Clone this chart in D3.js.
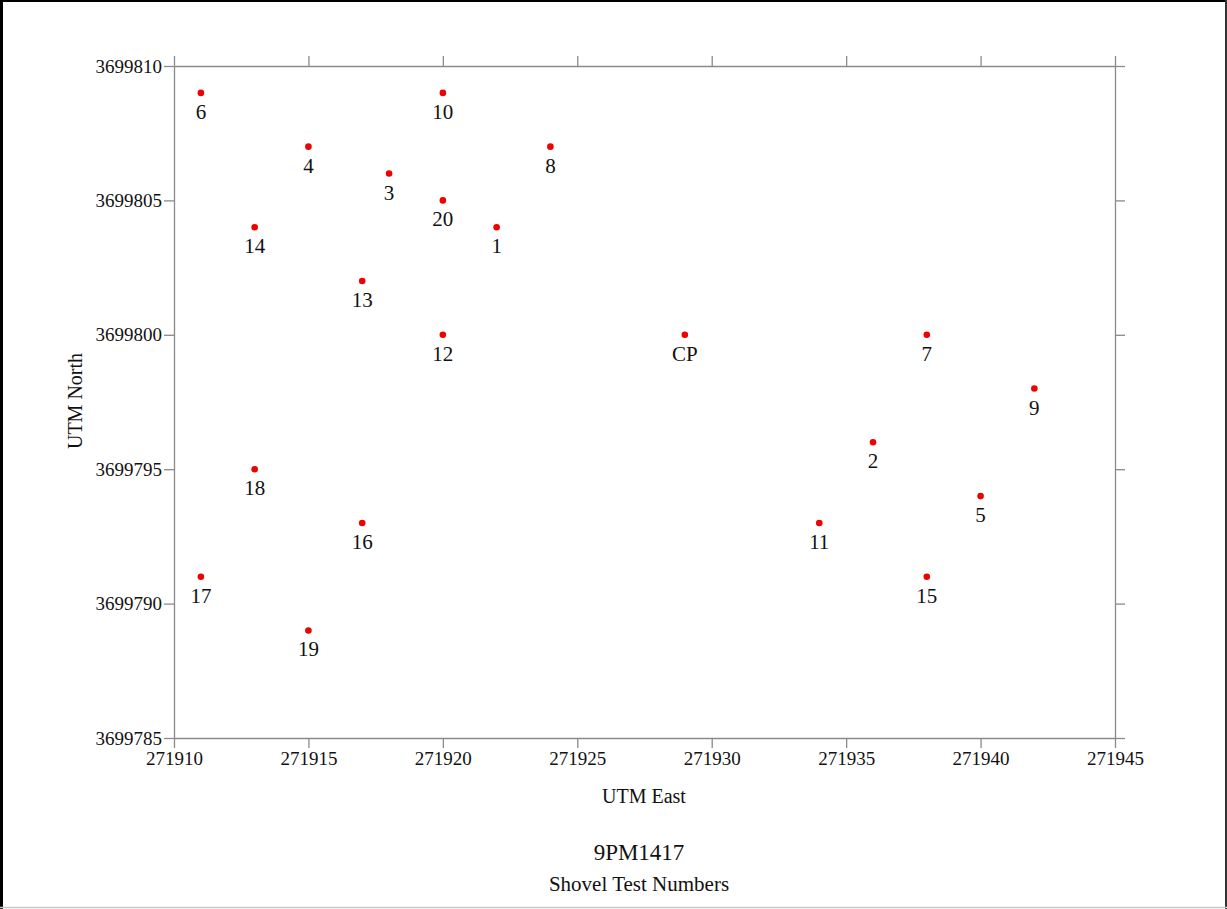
<!DOCTYPE html>
<html>
<head>
<meta charset="utf-8">
<script src="https://cdn.jsdelivr.net/npm/d3@7.9.0/dist/d3.min.js"></script>
<style>
  html, body { margin: 0; padding: 0; background: #fff; }
  svg { display: block; font-family: "Liberation Serif", "DejaVu Serif", serif; }
  .axis path, .axis line { stroke: #8a8a8a; stroke-width: 1.3; }
  .axis text { fill: #111; font-size: 19px; font-family: "Liberation Serif", serif; }
</style>
</head>
<body>
<div id="chart"></div>
<script>
// shovel test locations (UTM)
const labels = ['6', '10', '4', '8', '3', '20', '14', '1', '13', '12', 'CP', '7', '9', '2', '18', '5', '16', '11', '17', '15', '19'];
const east = [271911, 271920, 271915, 271924, 271918, 271920, 271913, 271922, 271917, 271920, 271929, 271938, 271942, 271936, 271913, 271940, 271917, 271934, 271911, 271938, 271915];
const north = [3699809, 3699809, 3699807, 3699807, 3699806, 3699805, 3699804, 3699804, 3699802, 3699800, 3699800, 3699800, 3699798, 3699796, 3699795, 3699794, 3699793, 3699793, 3699791, 3699791, 3699789];

const xTicks = [271910, 271915, 271920, 271925, 271930, 271935, 271940, 271945];
const yTicks = [3699785, 3699790, 3699795, 3699800, 3699805, 3699810];

const points = labels.map((label, i) => ({ label, x: east[i], y: north[i] }));

const width = 1227, height = 909;
const margin = { top: 66, right: 112, bottom: 171, left: 174 };

const svg = d3.select('#chart').append('svg')
  .attr('width', width)
  .attr('height', height);

// page frame
svg.append('line').attr('x1', 1.5).attr('x2', 1.5).attr('y1', 0).attr('y2', height)
  .attr('stroke', '#000').attr('stroke-width', 3);
svg.append('line').attr('x1', 0).attr('x2', width).attr('y1', 1).attr('y2', 1)
  .attr('stroke', '#000').attr('stroke-width', 2);
svg.append('line').attr('x1', 1226).attr('x2', 1226).attr('y1', 0).attr('y2', height)
  .attr('stroke', '#333').attr('stroke-width', 2);
svg.append('line').attr('x1', 0).attr('x2', width).attr('y1', 907.5).attr('y2', 907.5)
  .attr('stroke', '#c8c8c8').attr('stroke-width', 1.5);

const xScale = d3.scaleLinear()
  .domain([271910, 271945])
  .range([margin.left, width - margin.right]);
const yScale = d3.scaleLinear()
  .domain([3699785, 3699810])
  .range([height - margin.bottom, margin.top]);

const fmt = d3.format('d');

svg.append('g')
  .attr('class', 'axis')
  .attr('transform', `translate(0, ${yScale(3699785)})`)
  .call(d3.axisBottom(xScale).tickValues(xTicks).tickFormat(fmt).tickSize(10).tickSizeOuter(0).tickPadding(4));

svg.append('g')
  .attr('class', 'axis')
  .attr('transform', `translate(0, ${yScale(3699810)})`)
  .call(d3.axisTop(xScale).tickValues(xTicks).tickFormat('').tickSize(10).tickSizeOuter(0));

svg.append('g')
  .attr('class', 'axis')
  .attr('transform', `translate(${xScale(271910)}, 0)`)
  .call(d3.axisLeft(yScale).tickValues(yTicks).tickFormat(fmt).tickSize(10).tickSizeOuter(0).tickPadding(2));

svg.append('g')
  .attr('class', 'axis')
  .attr('transform', `translate(${xScale(271945)}, 0)`)
  .call(d3.axisRight(yScale).tickValues(yTicks).tickFormat('').tickSize(10).tickSizeOuter(0));

// points + labels
const g = svg.append('g');
g.selectAll('circle')
  .data(points)
  .join('circle')
    .attr('cx', d => xScale(d.x))
    .attr('cy', d => yScale(d.y))
    .attr('r', 3.3)
    .attr('fill', '#f00000');

g.selectAll('text')
  .data(points)
  .join('text')
    .attr('x', d => xScale(d.x))
    .attr('y', d => yScale(d.y) + 26)
    .attr('text-anchor', 'middle')
    .attr('font-size', 21)
    .attr('fill', '#111')
    .text(d => d.label);

// axis titles
svg.append('text')
  .attr('x', 644)
  .attr('y', 803)
  .attr('text-anchor', 'middle')
  .attr('font-size', 20)
  .attr('fill', '#111')
  .text('UTM East');

svg.append('text')
  .attr('transform', 'translate(82, 401) rotate(-90)')
  .attr('text-anchor', 'middle')
  .attr('font-size', 20)
  .attr('fill', '#111')
  .text('UTM North');

svg.append('text')
  .attr('x', 639)
  .attr('y', 860)
  .attr('text-anchor', 'middle')
  .attr('font-size', 23)
  .attr('fill', '#111')
  .text('9PM1417');

svg.append('text')
  .attr('x', 639)
  .attr('y', 891)
  .attr('text-anchor', 'middle')
  .attr('font-size', 21)
  .attr('fill', '#111')
  .text('Shovel Test Numbers');
</script>
</body>
</html>
